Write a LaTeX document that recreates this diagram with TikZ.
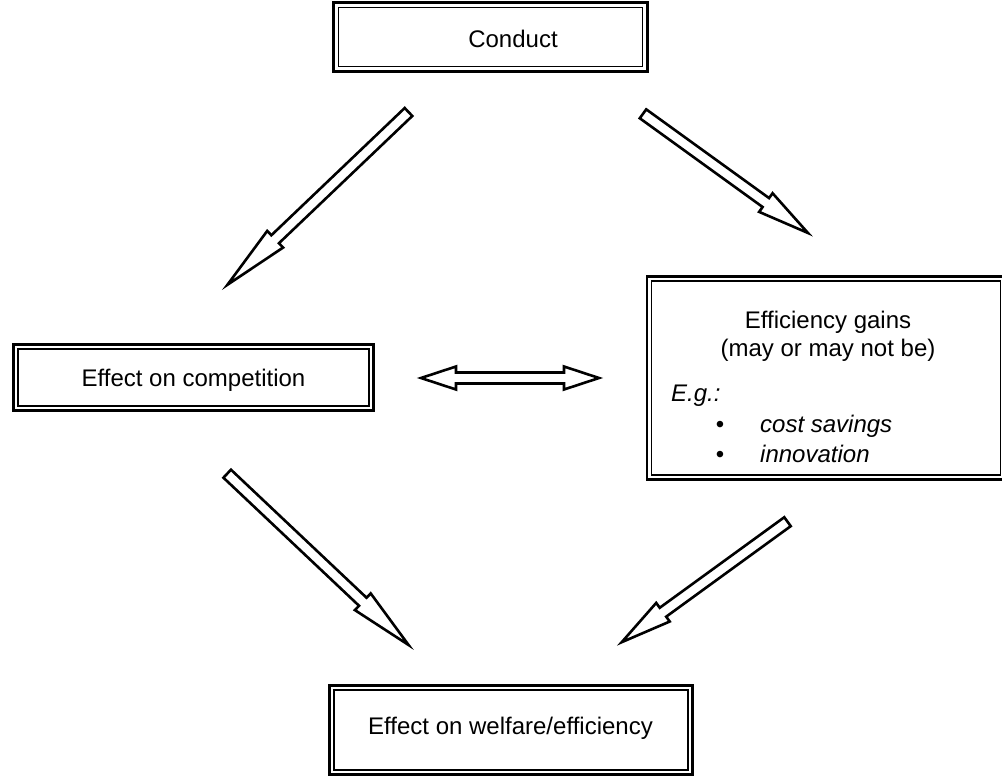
\documentclass[tikz,border=0pt]{standalone}
\usepackage{fontspec}
\setmainfont{Liberation Sans}
\usetikzlibrary{calc}

% shaft and head half-widths of the hollow block arrows
\def\sw{5.5pt}
\def\hw{11.5pt}

% hollow block arrow from tail #1 to tip #2, head length #3
\newcommand\fatarrow[3]{%
  \coordinate (fa-h) at ($(#2)!#3!(#1)$);
  \draw[blockarrow] ($(#1)!\sw!90:(#2)$) -- ($(fa-h)!\sw!90:(#2)$)
    -- ($(fa-h)!\hw!90:(#2)$) -- (#2) -- ($(fa-h)!\hw!-90:(#2)$)
    -- ($(fa-h)!\sw!-90:(#2)$) -- ($(#1)!\sw!-90:(#2)$) -- cycle;
}

% hollow double-headed block arrow between tips #1 and #2, head length #3
\newcommand\fatdblarrow[3]{%
  \coordinate (fd-a) at ($(#1)!#3!(#2)$);
  \coordinate (fd-b) at ($(#2)!#3!(#1)$);
  \draw[blockarrow] (#1) -- ($(fd-a)!\hw!90:(#2)$) -- ($(fd-a)!\sw!90:(#2)$)
    -- ($(fd-b)!\sw!-90:(#1)$) -- ($(fd-b)!\hw!-90:(#1)$) -- (#2)
    -- ($(fd-b)!\hw!90:(#1)$) -- ($(fd-b)!\sw!90:(#1)$)
    -- ($(fd-a)!\sw!-90:(#2)$) -- ($(fd-a)!\hw!-90:(#2)$) -- cycle;
}

\begin{document}
\begin{tikzpicture}[x=1pt,y=-1pt,
  txt/.style={font=\fontsize{24}{28}\selectfont, inner sep=0pt, anchor=base},
  frame/.style={draw, line width=2.6pt, outer sep=0pt, inner sep=0pt},
  innerframe/.style={line width=1.2pt},
  blockarrow/.style={draw, line width=2.6pt, line join=miter, fill=white},
]
\useasboundingbox (0,0) rectangle (1002,776);

% boxes: thick outer line with a thin line just inside
\node[frame, minimum width=314pt, minimum height=69pt] (conduct) at (490.5,37) {};
\node[frame, minimum width=360.4pt, minimum height=66.4pt] (comp) at (193.5,377.5) {};
\node[frame, minimum width=357.7pt, minimum height=203.4pt] (eff) at (826,378) {};
\node[frame, minimum width=363.4pt, minimum height=89.4pt] (welf) at (511,730) {};
\foreach \b in {conduct,comp,eff,welf}
  \draw[innerframe] ($(\b.north west)+(4.7,4.7)$) rectangle ($(\b.south east)+(-4.7,-4.7)$);

% box texts
\node[txt] (conductlbl) at (513,47.5) {Conduct};
\node[txt] (complbl) at (193.5,386) {Effect on competition};
\node[txt] (welflbl) at (510.5,734) {Effect on welfare/efficiency};
\node[txt] (efflbl1) at (828,328) {Efficiency gains};
\node[txt] (efflbl2) at (828,356) {(may or may not be)};
\node[txt, anchor=base west] (eg) at (671,401) {\itshape E.g.:};
\node[txt] (bul1) at (720,432) {•};
\node[txt] (bul2) at (720,462) {•};
\node[txt, anchor=base west] (item1) at (760,432) {\itshape cost savings};
\node[txt, anchor=base west] (item2) at (760,462) {\itshape innovation};

% arrow end points
\coordinate (a1s) at (408.5,112);
\coordinate (a1e) at (227.4,284.8);
\coordinate (a2s) at (643,113.8);
\coordinate (a2e) at (808,233);
\coordinate (a3s) at (227.2,473.7);
\coordinate (a3e) at (408.6,645);
\coordinate (a4s) at (787.5,521.7);
\coordinate (a4e) at (621.7,642.2);
\coordinate (dl) at (421,378);
\coordinate (dr) at (599,378);

\fatarrow{a1s}{a1e}{66pt}
\fatarrow{a2s}{a2e}{52pt}
\fatarrow{a3s}{a3e}{63pt}
\fatarrow{a4s}{a4e}{51pt}
\fatdblarrow{dl}{dr}{35pt}
\end{tikzpicture}
\end{document}
